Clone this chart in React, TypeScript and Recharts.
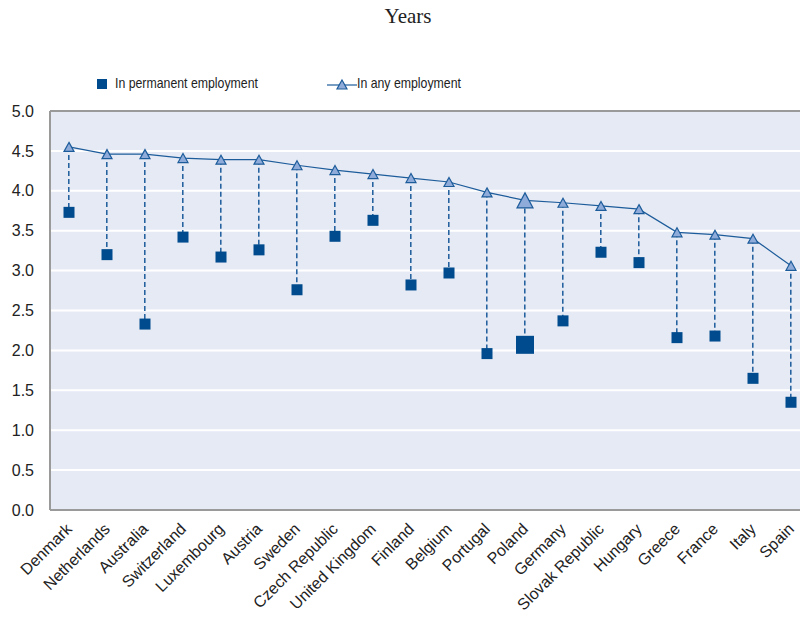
import { ComposedChart, Bar, Line, XAxis, YAxis, CartesianGrid, Legend, ReferenceLine } from "recharts";

const countries = [
  "Denmark", "Netherlands", "Australia", "Switzerland", "Luxembourg", "Austria", "Sweden",
  "Czech Republic", "United Kingdom", "Finland", "Belgium", "Portugal", "Poland", "Germany",
  "Slovak Republic", "Hungary", "Greece", "France", "Italy", "Spain",
];
const anyEmployment = [4.55, 4.46, 4.46, 4.41, 4.39, 4.39, 4.32, 4.26, 4.21, 4.16, 4.11, 3.98, 3.88, 3.85, 3.81, 3.77, 3.48, 3.45, 3.4, 3.06];
const permanentEmployment = [3.73, 3.2, 2.33, 3.42, 3.17, 3.26, 2.76, 3.43, 3.63, 2.82, 2.97, 1.96, 2.07, 2.37, 3.23, 3.1, 2.16, 2.18, 1.65, 1.35];
const yTicks = [0, 0.5, 1, 1.5, 2, 2.5, 3, 3.5, 4, 4.5, 5];
const highlighted = "Poland";

const data = countries.map((name, i) => ({
  name,
  any: anyEmployment[i],
  permanent: permanentEmployment[i],
  gap: [permanentEmployment[i], anyEmployment[i]],
}));

const DARK = "#004b8d";
const LINE = "#1d5c9b";
const LIGHT = "#8fabd9";
const FONT = "'Liberation Sans', Arial, sans-serif";

function SquareDot(props: any) {
  const { cx, cy, payload, index } = props;
  if (cx == null || cy == null) return null;
  const s = payload.name === highlighted ? 18 : 11;
  return <rect key={`sq-${index}`} x={cx - s / 2} y={cy - s / 2} width={s} height={s} fill={DARK} />;
}

function TriangleDot(props: any) {
  const { cx, cy, payload, index } = props;
  if (cx == null || cy == null) return null;
  const big = payload.name === highlighted;
  const w = big ? 16 : 10;
  const h = big ? 15 : 9;
  const pts = `${cx},${cy - h / 2} ${cx + w / 2},${cy + h / 2} ${cx - w / 2},${cy + h / 2}`;
  return <polygon key={`tr-${index}`} points={pts} fill={LIGHT} stroke={LINE} strokeWidth={1.2} />;
}

function GapLine(props: any) {
  const { x, y, width, height } = props;
  const cx = x + width / 2;
  return <line x1={cx} x2={cx} y1={y} y2={y + height} stroke={LINE} strokeWidth={1.5} strokeDasharray="5 3" />;
}

function CountryTick(props: any) {
  const { x, y, payload } = props;
  return (
    <text
      x={x + 4}
      y={y + 12}
      textAnchor="end"
      fontSize={16}
      fontFamily={FONT}
      fill="#222"
      transform={`rotate(-45, ${x + 4}, ${y + 12})`}
    >
      {payload.value}
    </text>
  );
}

const legendText = {
  position: "absolute" as const,
  top: 2,
  fontSize: 15,
  transform: "scaleX(0.82)",
  transformOrigin: "left center",
  whiteSpace: "nowrap" as const,
};

function LegendContent() {
  return (
    <div style={{ position: "relative", height: 24, fontFamily: FONT, color: "#222" }}>
      <svg width={12} height={12} style={{ position: "absolute", left: 96, top: 6 }}>
        <rect x={1} y={1} width={10} height={10} fill={DARK} />
      </svg>
      <span style={{ ...legendText, left: 115 }}>In permanent employment</span>
      <svg width={30} height={14} style={{ position: "absolute", left: 327, top: 5 }}>
        <line x1={0} x2={30} y1={8} y2={8} stroke={LINE} strokeWidth={1.2} />
        <polygon points="15,3 20,12 10,12" fill={LIGHT} stroke={LINE} strokeWidth={1.2} />
      </svg>
      <span style={{ ...legendText, left: 357 }}>In any employment</span>
    </div>
  );
}

export default function App() {
  return (
    <div style={{ position: "absolute", left: 0, top: 0, width: 800, height: 634, overflow: "hidden", background: "#fff" }}>
      <div
        style={{
          position: "absolute",
          top: 4,
          left: 0,
          width: 816,
          textAlign: "center",
          fontFamily: "'Liberation Serif', 'Times New Roman', serif",
          fontSize: 21,
          color: "#222",
        }}
      >
        Years
      </div>
      <ComposedChart
        width={830}
        height={634}
        data={data}
        margin={{ top: 111, right: 20, bottom: 0, left: 0 }}
      >
        <CartesianGrid vertical={false} fill="#e6eaf4" stroke="#ffffff" strokeWidth={2} />
        <XAxis
          dataKey="name"
          interval={0}
          height={124}
          tickLine={false}
          axisLine={{ stroke: "#9a9a9a", strokeWidth: 2 }}
          tick={<CountryTick />}
        />
        <YAxis
          domain={[0, 5]}
          ticks={yTicks}
          tickFormatter={(v: number) => v.toFixed(1)}
          width={50}
          tickLine={false}
          tickMargin={10}
          axisLine={{ stroke: "#9a9a9a", strokeWidth: 2 }}
          tick={{ fontSize: 16, fill: "#222", fontFamily: FONT }}
        />
        <ReferenceLine y={5} stroke="#9a9a9a" strokeWidth={2} />
        <Legend verticalAlign="middle" wrapperStyle={{ top: 72, left: 0, width: 800 }} content={<LegendContent />} />
        <Bar dataKey="gap" shape={<GapLine />} isAnimationActive={false} legendType="none" />
        <Line
          dataKey="any"
          stroke={LINE}
          strokeWidth={1.2}
          dot={<TriangleDot />}
          activeDot={false}
          isAnimationActive={false}
        />
        <Line
          dataKey="permanent"
          stroke="none"
          dot={<SquareDot />}
          activeDot={false}
          isAnimationActive={false}
        />
      </ComposedChart>
    </div>
  );
}
